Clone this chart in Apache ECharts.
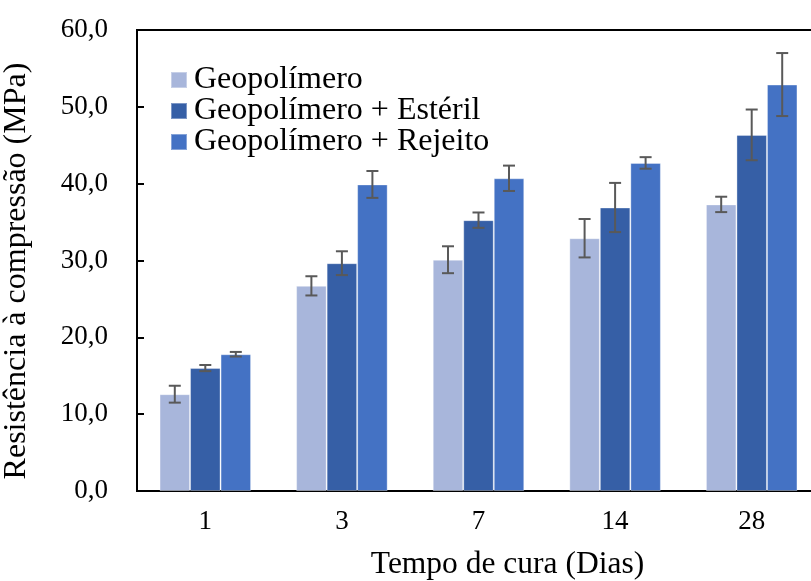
<!DOCTYPE html>
<html>
<head>
<meta charset="utf-8">
<script src="https://cdn.jsdelivr.net/npm/echarts@6/dist/echarts.min.js"></script>
<style>html,body{margin:0;padding:0;background:#fff}#c{width:811px;height:581px}</style>
</head>
<body>
<div id="c"></div>
<script>
const categories = ['1', '3', '7', '14', '28'];
const seriesNames = ['Geopolímero', 'Geopolímero + Estéril', 'Geopolímero + Rejeito'];
const geo = [12.6, 26.7, 30.1, 32.9, 37.3];
const geoErr = [1.1, 1.25, 1.75, 2.5, 1.0];
const esteril = [16.0, 29.65, 35.25, 36.9, 46.35];
const esterilErr = [0.4, 1.55, 1.0, 3.2, 3.3];
const rejeito = [17.8, 39.9, 40.7, 42.7, 52.9];
const rejeitoErr = [0.3, 1.75, 1.65, 0.75, 4.1];
const yTicks = [0, 10, 20, 30, 40, 50, 60];

const colors = ['#A8B6DB', '#365FA6', '#4472C4'];
const values = [geo, esteril, rejeito];
const errs = [geoErr, esterilErr, rejeitoErr];
const font = '"Liberation Serif", "Times New Roman", serif';
const gapRatio = 0.33;

const chart = echarts.init(document.getElementById('c'), null, {renderer: 'canvas'});

const barSeries = values.map((v, i) => ({
  name: seriesNames[i],
  type: 'bar',
  data: v,
  barGap: '0%',
  barCategoryGap: '33%',
  itemStyle: {color: colors[i], borderColor: 'rgba(255,255,255,0.35)', borderWidth: 1},
  z: 2
}));

const errSeries = values.map((v, i) => ({
  type: 'custom',
  name: 'err' + i,
  data: v.map((val, j) => [j, val - errs[i][j], val + errs[i][j]]),
  z: 5,
  silent: true,
  renderItem: function (params, api) {
    const x = api.value(0);
    const lo = api.coord([x, api.value(1)]);
    const hi = api.coord([x, api.value(2)]);
    const catW = api.size([1, 0])[0];
    const bw = catW * (1 - gapRatio) / 3;
    const cx = lo[0] + (i - 1) * bw;
    const cap = 6;
    const st = {stroke: '#595959', lineWidth: 2};
    return {
      type: 'group',
      children: [
        {type: 'line', shape: {x1: cx, y1: hi[1], x2: cx, y2: lo[1]}, style: st},
        {type: 'line', shape: {x1: cx - cap, y1: hi[1], x2: cx + cap, y2: hi[1]}, style: st},
        {type: 'line', shape: {x1: cx - cap, y1: lo[1], x2: cx + cap, y2: lo[1]}, style: st}
      ]
    };
  }
}));

chart.setOption({
  animation: false,
  grid: {left: 137, top: 30, width: 683, height: 461, outerBoundsMode: 'none', containLabel: false,
    show: true, borderColor: '#000', borderWidth: 2, backgroundColor: 'transparent'},
  legend: {
    data: seriesNames,
    orient: 'vertical',
    left: 165,
    top: 59,
    itemWidth: 16,
    itemHeight: 16,
    itemGap: -1,
    icon: 'rect',
    textStyle: {fontFamily: font, fontSize: 32, lineHeight: 28, color: '#000', padding: [0, 0, 0, 2]}
  },
  xAxis: {
    type: 'category',
    data: categories,
    name: 'Tempo de cura (Dias)',
    nameLocation: 'middle',
    nameGap: 58,
    nameTextStyle: {fontFamily: font, fontSize: 31.5, color: '#000', padding: [0, 0, 0, 58]},
    axisLine: {lineStyle: {color: '#000', width: 2}},
    axisTick: {inside: true, length: 6, lineStyle: {color: '#000', width: 2}},
    axisLabel: {fontFamily: font, fontSize: 27, color: '#000', margin: 17}
  },
  yAxis: {
    type: 'value',
    min: yTicks[0],
    max: yTicks[yTicks.length - 1],
    interval: 10,
    name: 'Resistência à compressão (MPa)',
    nameLocation: 'middle',
    nameGap: 104,
    nameTextStyle: {fontFamily: font, fontSize: 32, color: '#000', padding: [0, 21, 0, 0]},
    splitLine: {show: false},
    axisLine: {show: true, lineStyle: {color: '#000', width: 2}},
    axisTick: {show: true, inside: true, length: 7, lineStyle: {color: '#000', width: 2}},
    axisLabel: {fontFamily: font, fontSize: 27, color: '#000', margin: 29,
      formatter: v => v.toFixed(1).replace('.', ',')}
  },
  series: barSeries.concat(errSeries)
});
</script>
</body>
</html>
